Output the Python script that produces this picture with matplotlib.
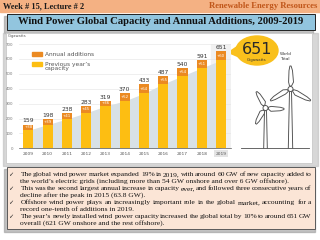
import numpy as np
import matplotlib
matplotlib.use("Agg")
import matplotlib.pyplot as plt
from matplotlib.patches import Rectangle, Ellipse, Polygon, Circle

# data
years = ["2009", "2010", "2011", "2012", "2013", "2014", "2015", "2016", "2017", "2018", "2019"]
totals = [159, 198, 238, 283, 319, 370, 433, 487, 540, 591, 651]
additions = [38, 39, 41, 45, 36, 52, 64, 55, 54, 51, 60]
y_ticks = [0, 100, 200, 300, 400, 500, 600, 700]

header_left = "Week # 15, Lecture # 2"
header_right = "Renewable Energy Resources"
title = "Wind Power Global Capacity and Annual Additions, 2009-2019"
bullets = [
    ["The global wind power market expanded 19% in 2019, with around 60 GW of new capacity added to",
     "the world\u2019s electric grids (including more than 54 GW onshore and over 6 GW offshore)."],
    ["This was the second largest annual increase in capacity ever, and followed three consecutive years of",
     "decline after the peak in 2015 (63.8 GW)."],
    ["Offshore wind power plays an increasingly important role in the global market, accounting for a",
     "record one-tenth of additions in 2019."],
    ["The year\u2019s newly installed wind power capacity increased the global total by 10% to around 651 GW",
     "overall (621 GW onshore and the rest offshore)."],
]

YELLOW = "#FDBE12"
ORANGE = "#EB8A22"
SERIF = ["Liberation Serif", "DejaVu Serif"]

fig = plt.figure(figsize=(3.2, 2.4), dpi=100)
fig.patch.set_facecolor("white")

# background / decoration layer in pixel coords
bg = fig.add_axes([0, 0, 1, 1], zorder=0)
bg.set_xlim(0, 320)
bg.set_ylim(240, 0)
bg.axis("off")

# header band
bg.add_patch(Rectangle((0, 0), 320, 11.5, color="#F4B183"))
bg.text(3, 6, header_left, fontsize=6, fontweight="bold", family=SERIF, va="center", color="#1a1a1a")
bg.text(317, 6, header_right, fontsize=6.2, fontweight="bold", family=SERIF, va="center", ha="right", color="#C0561A")

# title box
bg.add_patch(Rectangle((4, 16), 309, 17, color="#9a9a9a", alpha=0.6))
bg.add_patch(Rectangle((7, 13.5), 308, 16.5, facecolor="#92C5DE", edgecolor="#222222", lw=0.7))
bg.text(161, 22, title, fontsize=7.7, fontweight="bold", family=SERIF, ha="center", va="center", color="#111111")

# chart panel
bg.add_patch(Rectangle((3, 33), 315, 133, color="#bdbdbd", alpha=0.6))
bg.add_patch(Rectangle((6, 32.5), 306, 130.5, facecolor="white", edgecolor="#c9c9c9", lw=0.6))
bg.text(7.5, 36, "Gigawatts", fontsize=2.6, color="#555555", va="center")

# legend
bg.add_patch(Rectangle((32, 52), 10, 4, color=ORANGE))
bg.text(45, 54, "Annual additions", fontsize=4.2, color="#555555", va="center")
bg.add_patch(Rectangle((32, 62), 10, 4, color=YELLOW))
bg.text(45, 66.5, "Previous year\u2019s\ncapacity", fontsize=4.2, color="#555555", va="center", linespacing=0.95)

# bubble
bg.add_patch(Polygon([(238, 46), (228.5, 52.5), (239, 57)], color="#F9C01C"))
bg.add_patch(Ellipse((257, 50.5), 42, 29, color="#F9C01C"))
bg.text(257, 49, str(totals[-1]), fontsize=11.5, ha="center", va="center", color="#2a2a2a")
bg.text(257, 59.5, "Gigawatts", fontsize=2.8, ha="center", va="center", color="#333333")
bg.text(280, 56.5, "World\nTotal", fontsize=3, ha="left", va="center", color="#333333", linespacing=1.1)


def blade(hx, hy, ang, L):
    a = np.deg2rad(ang)
    d = np.array([np.cos(a), np.sin(a)])
    n = np.array([-d[1], d[0]])
    prof = [(3, 1.0), (L * 0.3, 3.0), (L * 0.8, 2.0), (L, 0.6), (L, -0.6), (L * 0.8, -1.5), (L * 0.3, -1.9), (3, -1.0)]
    pts = [(hx + t * d[0] + w * n[0], hy + t * d[1] + w * n[1]) for t, w in prof]
    bg.add_patch(Polygon(pts, facecolor="white", edgecolor="#4d4d4d", lw=0.65, zorder=3))


def turbine(hx, hy, base, L, angs, tw):
    bg.plot([hx - 1, hx - tw], [hy + 2, base], color="#4d4d4d", lw=0.65, zorder=2)
    bg.plot([hx + 1, hx + tw], [hy + 2, base], color="#4d4d4d", lw=0.65, zorder=2)
    for a in angs:
        blade(hx, hy, a, L)
    bg.add_patch(Circle((hx, hy), 2.5, facecolor="white", edgecolor="#4d4d4d", lw=0.65, zorder=4))


turbine(265.5, 108, 148, 18.5, [-119, 3, 121], 1.8)
turbine(290.5, 89, 148, 23, [-90, 30, 150], 2.2)
bg.plot([241, 309], [148, 148], color="#4d4d4d", lw=0.6)

# text box
bg.add_patch(Rectangle((4, 169), 311, 63, color="#9a9a9a", alpha=0.6))
bg.add_patch(Rectangle((6.5, 166.5), 308, 62, facecolor="#FBE5D6", edgecolor="#5a5a5a", lw=0.7))

fig.canvas.draw()
rend = fig.canvas.get_renderer()


def put_line(x0, x1, y, s, justify):
    kw = dict(fontsize=5.4, family=SERIF, va="baseline", color="#111111")
    if not justify:
        bg.text(x0, y, s, **kw)
        return
    words = s.split(" ")
    ts = [bg.text(0, y, w, **kw) for w in words]
    ws = [t.get_window_extent(rend).width for t in ts]
    gap = (x1 - x0 - sum(ws)) / (len(words) - 1)
    x = x0
    for t, w in zip(ts, ws):
        t.set_x(x)
        x += w + gap


y = 176.3
for b in bullets:
    bg.text(11, y, "\u2713", fontsize=4.5, family=["DejaVu Sans"], va="baseline", ha="center", color="#222222")
    put_line(20.5, 311.5, y, b[0], True)
    put_line(20.5, 311.5, y + 6.6, b[1], False)
    y += 13.8

# bar chart
ax = fig.add_axes([18.7 / 320, 1 - 148.3 / 240, 212 / 320, 104.3 / 240], zorder=1)
ax.patch.set_alpha(0)
x = np.arange(len(years))
tot = np.array(totals)
add = np.array(additions)
prev = tot - add

ax.axvspan(9.5, 10.5, color="#F1F1F1", zorder=0)
ax.fill_between(x, 0, prev, color="#D8E1E6", lw=0, zorder=1)
ax.bar(x, prev, width=0.53, color=YELLOW, zorder=2)
ax.bar(x, add, bottom=prev, width=0.53, color=ORANGE, zorder=2)
for i in range(len(x)):
    ax.text(x[i], tot[i] + 8, str(tot[i]), ha="center", va="bottom", fontsize=4.3, color="#333333")
    ax.text(x[i], prev[i] + add[i] / 2, "+%d" % add[i], ha="center", va="center", fontsize=2.8, color="white")

ax.set_xlim(-0.5, 10.5)
ax.set_ylim(0, 700)
ax.set_yticks(y_ticks)
ax.set_xticks(x)
ax.set_xticklabels(years)
ax.tick_params(axis="y", length=0, pad=4, labelsize=2.8, labelcolor="#777777")
ax.tick_params(axis="x", length=0, pad=2.5, labelsize=3.2, labelcolor="#555555")
ax.get_xticklabels()[-1].set_bbox(dict(facecolor="#E4E4E4", edgecolor="none", pad=1.2))
ax.grid(axis="y", color="#E3E3E3", lw=0.4, zorder=0)
ax.set_axisbelow(True)
for s in ["top", "right", "left"]:
    ax.spines[s].set_visible(False)
ax.spines["bottom"].set_color("#555555")
ax.spines["bottom"].set_linewidth(0.5)

fig.savefig("out.png", dpi=100)
